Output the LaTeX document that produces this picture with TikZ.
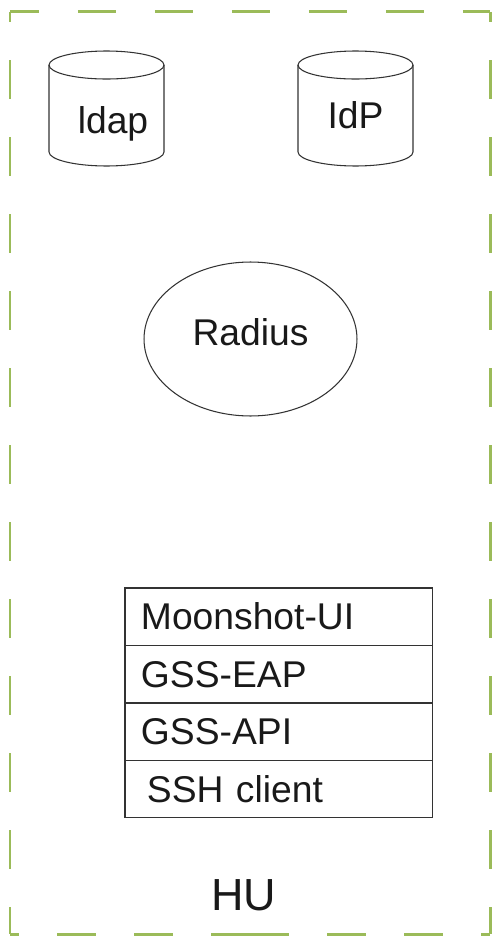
\documentclass[tikz,border=0pt]{standalone}
\usepackage{fontspec}
\setmainfont{Liberation Sans}
\usetikzlibrary{chains}
\usetikzlibrary{shapes.geometric,positioning}

\definecolor{huframe}{HTML}{9BBB59}
\definecolor{inkgray}{HTML}{333333}

\begin{document}
\begin{tikzpicture}[x=0.02cm,y=-0.02cm]
            \edef\sizelayer{1.15cm}
            \tikzstyle{hudash}=[draw=huframe,line width=0.06cm,dash pattern=on 0.77cm off 0.77cm]
            \tikzstyle{storeline}=[draw=inkgray,line width=0.6pt]
            \tikzstyle{layer}=[draw=inkgray,line width=0.6pt,outer sep=0pt,minimum height=\sizelayer,
            text width=5.52cm,inner xsep=0.32cm,align=left,text height=15pt,text depth=0pt]
            \tikzstyle{txt}=[anchor=base,inner sep=0pt,text=black!90,font=\fontsize{21.2}{25}\selectfont]

            \useasboundingbox (0,0) rectangle (491,936);

            % frame of HU
            \coordinate (nw) at (10,12);
            \coordinate (ne) at (490,12);
            \coordinate (sw) at (10,934);
            \coordinate (se) at (490,934);
            \coordinate (sm) at (250,934);
            \draw [hudash,dash phase=0.18cm] (nw) -- (ne);
            \draw [hudash,dash phase=0.57cm] (nw) -- (sw);
            \draw [hudash,dash phase=0.57cm] (ne) -- (se);
            \draw [hudash,dash phase=0.59cm] (sw) -- (sm);
            \draw [hudash,dash phase=0.59cm] (se) -- (sm);

            % the two stores
            \foreach \cx/\nm in {106.5/ldapdb,355.5/idpdb} {
                \coordinate (\nm) at (\cx,108.5);
                \draw [storeline] ([xshift=-1.15cm,yshift=0.87cm]\nm) -- ([xshift=-1.15cm,yshift=-0.87cm]\nm)
                    arc [start angle=180,end angle=0,x radius=57.5,y radius=14]
                    -- ([xshift=1.15cm,yshift=0.87cm]\nm);
                \draw [storeline] ([yshift=0.87cm]\nm) ellipse [x radius=57.5,y radius=14];
            }
            \node [txt] (ldap) at (113,133) {ldap};
            \node [txt] (idp) at (355.5,129) {IdP};

            \node [ellipse,draw=inkgray,line width=0.6pt,inner sep=0pt,minimum width=4.26cm,
            minimum height=3.08cm] (radius) at (250.5,339) {};
            \node [txt] (radiuslbl) at (250.5,345) {Radius};

            \begin{scope}[start chain=1 going below,node distance=0pt,
            every node/.style={font=\fontsize{21.2}{25}\selectfont,text=black!90}]
                \node [on chain=1,layer,anchor=north west] (ui) at (125,588) {Moonshot-UI};
                \node [on chain=1,layer] (eap) {GSS-EAP};
                \node [on chain=1,layer] (api) {GSS-API};
                \node [on chain=1,layer] (ssh) {\hspace{0.12cm}SSH client};
            \end{scope}

            \node [txt,font=\fontsize{25.6}{30}\selectfont] (hu) at (244,910) {HU};
        \end{tikzpicture}
\end{document}
